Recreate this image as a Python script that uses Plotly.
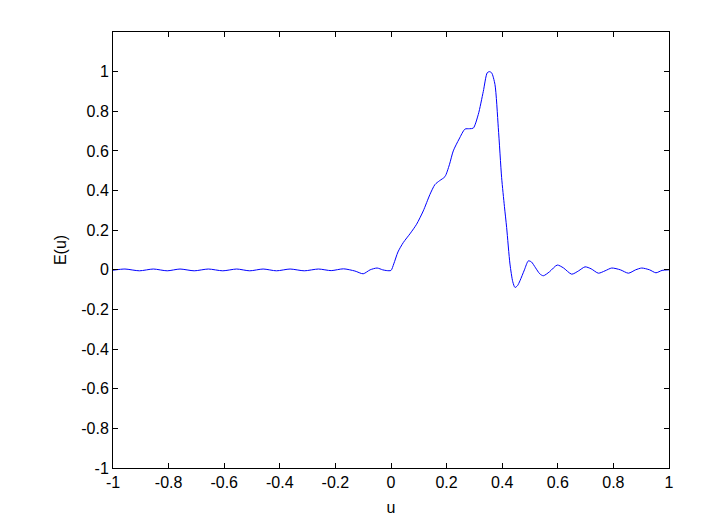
import plotly.graph_objects as go

u_vals = [-1.0, -0.957, -0.905, -0.855, -0.805, -0.759, -0.708, -0.657, -0.605, -0.555,
          -0.508, -0.460, -0.412, -0.363, -0.312, -0.261, -0.215, -0.171, -0.13, -0.10,
          -0.075, -0.05, -0.03, -0.015, 0.0, 0.01, 0.025, 0.044, 0.07, 0.092,
          0.116, 0.14, 0.158, 0.175, 0.194, 0.21, 0.224, 0.245, 0.266, 0.282,
          0.296, 0.314, 0.332, 0.346, 0.354, 0.362, 0.374, 0.386, 0.398, 0.408,
          0.416, 0.428, 0.438, 0.446, 0.455, 0.464, 0.48, 0.494, 0.505, 0.52,
          0.535, 0.548, 0.57, 0.598, 0.62, 0.65, 0.675, 0.698, 0.72, 0.746,
          0.77, 0.794, 0.825, 0.854, 0.88, 0.902, 0.93, 0.953, 0.975, 1.0]
e_vals = [-0.002, 0.004, -0.005, 0.004, -0.005, 0.004, -0.005, 0.004, -0.005, 0.004,
          -0.005, 0.004, -0.005, 0.004, -0.005, 0.004, -0.004, 0.005, -0.006, -0.02,
          0.0, 0.009, 0.0, -0.004, -0.003, 0.03, 0.09, 0.137, 0.185, 0.23,
          0.297, 0.38, 0.43, 0.45, 0.47, 0.53, 0.60, 0.66, 0.71, 0.712,
          0.715, 0.784, 0.90, 0.994, 1.0, 0.994, 0.935, 0.717, 0.465, 0.32,
          0.213, 0.029, -0.06, -0.089, -0.08, -0.055, 0.0, 0.045, 0.04, 0.01,
          -0.02, -0.03, -0.01, 0.024, 0.01, -0.022, -0.005, 0.015, 0.005, -0.017,
          -0.005, 0.009, 0.0, -0.017, 0.0, 0.009, 0.0, -0.015, -0.003, 0.0]

x_ticks = [-1, -0.8, -0.6, -0.4, -0.2, 0, 0.2, 0.4, 0.6, 0.8, 1]
x_labels = ["-1", "-0.8", "-0.6", "-0.4", "-0.2", "0", "0.2", "0.4", "0.6", "0.8", "1"]
y_ticks = [-1, -0.8, -0.6, -0.4, -0.2, 0, 0.2, 0.4, 0.6, 0.8, 1]
y_labels = ["-1", "-0.8", "-0.6", "-0.4", "-0.2", "0", "0.2", "0.4", "0.6", "0.8", "1"]

FONT = dict(family="Liberation Sans, Arial", size=16, color="black")

fig = go.Figure()
fig.add_trace(go.Scatter(x=u_vals, y=e_vals, mode="lines",
                         line=dict(color="#0000ff", width=1, shape="spline", smoothing=0.7),
                         showlegend=False))

axis_common = dict(showgrid=False, zeroline=False, showline=True, linecolor="black",
                   linewidth=1, mirror="ticks", ticks="inside", ticklen=5,
                   tickcolor="black", tickfont=FONT)

fig.update_layout(
    width=723, height=521,
    margin=dict(l=105, r=62, t=24, b=61),
    paper_bgcolor="white", plot_bgcolor="white",
    xaxis=dict(range=[-1, 1], tickvals=x_ticks, ticktext=x_labels,
               title=dict(text="u", font=FONT, standoff=11),
               **axis_common),
    yaxis=dict(range=[-1, 1.2], tickvals=y_ticks, ticktext=y_labels,
               title=dict(text="E(u)", font=FONT, standoff=10),
               **axis_common),
)

fig.write_html("out.html")
